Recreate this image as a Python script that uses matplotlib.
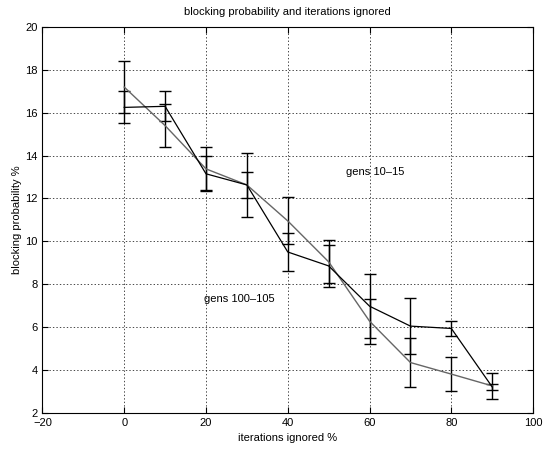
import matplotlib
matplotlib.use("Agg")
import matplotlib.pyplot as plt

plt.rcParams['font.family'] = ['Liberation Sans', 'DejaVu Sans']

iterations = [0, 10, 20, 30, 40, 50, 60, 70, 80, 90]
# series 1 (gray)
blocking_a = [17.2, 15.4, 13.38, 12.63, 10.95, 9.04, 6.27, 4.34, 3.8, 3.25]
err_a = [1.2, 1.0, 1.0, 1.5, 1.1, 1.0, 1.05, 1.13, 0.78, 0.6]
# series 2 (black)
blocking_b = [16.25, 16.3, 13.15, 12.63, 9.5, 8.85, 6.97, 6.04, 5.93, 3.2]
err_b = [0.75, 0.7, 0.82, 0.59, 0.9, 0.99, 1.5, 1.29, 0.34, 0.12]

label_a = "gens 100\u2013105"
label_b = "gens 10\u201315"
title = "blocking probability and iterations ignored"
xlabel = "iterations ignored %"
ylabel = "blocking probability %"
xticks = [-20, 0, 20, 40, 60, 80, 100]
yticks = [2, 4, 6, 8, 10, 12, 14, 16, 18, 20]

fig = plt.figure(figsize=(5.44, 4.51), dpi=100)
ax = fig.add_axes([0.078, 0.085, 0.902, 0.855])

ax.errorbar(iterations, blocking_a, yerr=err_a, color='#666666', ecolor='black',
            elinewidth=1.0, linewidth=1.0, capsize=4, capthick=1.0)
ax.errorbar(iterations, blocking_b, yerr=err_b, color='black', ecolor='black',
            elinewidth=1.0, linewidth=0.9, capsize=4, capthick=1.0)

ax.text(54.2, 13.25, label_b, fontsize=8, ha='left', va='center')
ax.text(36.9, 7.3, label_a, fontsize=8, ha='right', va='center')

ax.set_xlim(-20, 100)
ax.set_ylim(2, 20)
ax.set_xticks(xticks)
ax.set_yticks(yticks)
ax.grid(True, color='black', linestyle=(0, (2, 3)), linewidth=0.5)
ax.tick_params(direction='in', labelsize=8, length=4, top=True, right=True)
for s in ax.spines.values():
    s.set_linewidth(0.8)
ax.set_title(title, fontsize=8, pad=9)
ax.set_xlabel(xlabel, fontsize=8, labelpad=4)
ax.set_ylabel(ylabel, fontsize=8, labelpad=2)

fig.savefig("out.png", dpi=100)
